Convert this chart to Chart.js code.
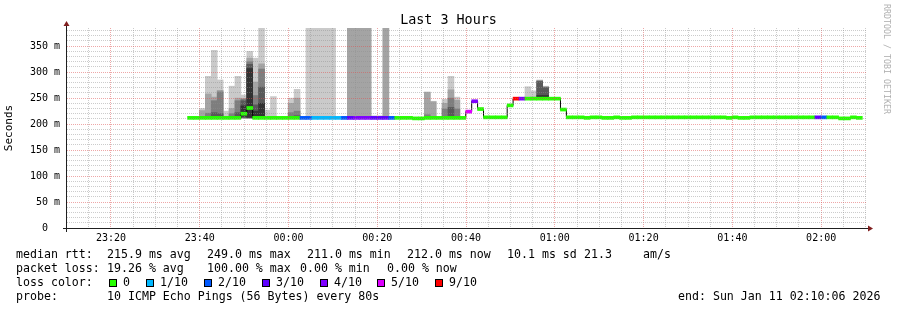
<!DOCTYPE html>
<html>
<head>
<meta charset="utf-8">
<title>Last 3 Hours</title>
<script src="https://cdn.jsdelivr.net/npm/chart.js@4.4.1/dist/chart.umd.min.js"></script>
<style>
  html, body { margin: 0; padding: 0; background: #fff; }
  #wrap { position: relative; width: 897px; height: 310px; overflow: hidden;
          font-family: "DejaVu Sans Mono", monospace; color: #000; }
  #chart { position: absolute; left: 0; top: 0; }
  #title { position: absolute; left: 0; top: 11.5px; width: 897px; text-align: center;
           font-size: 13.4px; line-height: 16px; }
  #mark { position: absolute; left: 892px; top: 4px; font-size: 8.3px; line-height: 10px;
          color: #b0b0b0; white-space: pre; transform: rotate(90deg); transform-origin: 0 0; }
  .t { position: absolute; white-space: pre; font-size: 11.6px; line-height: 14px; }
  .sw { position: absolute; top: 279px; width: 6px; height: 6px; border: 1px solid #000; }
</style>
</head>
<body>
<div id="wrap">
  <canvas id="chart" width="897" height="310"></canvas>
  <div id="title">Last 3 Hours</div>
  <div id="mark">RRDTOOL / TOBI OETIKER</div>

  <div class="t" style="top:246.5px;left:16px">median rtt:</div>
  <div class="t" style="top:246.5px;left:107px">215.9 ms avg</div>
  <div class="t" style="top:246.5px;left:207px">249.0 ms max</div>
  <div class="t" style="top:246.5px;left:307px">211.0 ms min</div>
  <div class="t" style="top:246.5px;left:407px">212.0 ms now</div>
  <div class="t" style="top:246.5px;left:507px">10.1 ms sd</div>
  <div class="t" style="top:246.5px;left:584px">21.3</div>
  <div class="t" style="top:246.5px;left:643px">am/s</div>

  <div class="t" style="top:260.5px;left:16px">packet loss:</div>
  <div class="t" style="top:260.5px;left:107px">19.26 % avg</div>
  <div class="t" style="top:260.5px;left:207px">100.00 % max</div>
  <div class="t" style="top:260.5px;left:300px">0.00 % min</div>
  <div class="t" style="top:260.5px;left:387px">0.00 % now</div>

  <div class="t" style="top:274.5px;left:16px">loss color:</div>
  <div id="lossKey"></div>

  <div class="t" style="top:288.5px;left:16px">probe:</div>
  <div class="t" style="top:288.5px;left:107px">10 ICMP Echo Pings (56 Bytes) every 80s</div>
  <div class="t" style="top:288.5px;left:678px">end: Sun Jan 11 02:10:06 2026</div>
</div>

<script>
// graph window: 3 hours ending Sun Jan 11 02:10:06 2026
const graphStartClock = 23 * 3600 + 10 * 60 + 6;   // 23:10:06
const graphSpan = 3 * 3600;
const stepSec = 80;
const firstStep = 1630;   // seconds after graph start where the first sample begins

// median rtt per 80 s step (ms)
const medianMs = [
  212, 212, 212, 212, 212, 212, 212, 212, 212, 220,
  231, 212, 212, 212, 212, 212, 212, 212, 212, 212,
  212, 212, 212, 212, 212, 212, 212, 212, 212, 212,
  212, 212, 212, 212, 212, 212, 212, 212, 211, 211,
  212, 212, 212, 212, 212, 212, 212, 224, 244, 229,
  213, 213, 213, 213, 236, 249, 249, 249, 249, 249,
  249, 249, 249, 228, 213, 213, 213, 212, 213, 213,
  212, 212, 213, 212, 212, 213, 213, 213, 213, 213,
  213, 213, 213, 213, 213, 213, 213, 213, 213, 213,
  213, 212, 213, 212, 212, 213, 213, 213, 213, 213,
  213, 213, 213, 213, 213, 213, 213, 213, 213, 213,
  211, 211, 213, 212
];

// lost pings out of 10 per step
const lostPings = [
  0, 0, 0, 0, 0, 0, 0, 0, 0, 0,
  0, 0, 0, 0, 0, 0, 0, 0, 0, 2,
  2, 1, 1, 1, 1, 1, 2, 3, 4, 4,
  4, 3, 3, 3, 2, 0, 0, 0, 0, 0,
  0, 0, 0, 0, 0, 0, 0, 5, 4, 0,
  0, 0, 0, 0, 0, 9, 4, 0, 0, 0,
  0, 0, 0, 0, 0, 0, 0, 0, 0, 0,
  0, 0, 0, 0, 0, 0, 0, 0, 0, 0,
  0, 0, 0, 0, 0, 0, 0, 0, 0, 0,
  0, 0, 0, 0, 0, 0, 0, 0, 0, 0,
  0, 0, 0, 0, 0, 0, 3, 2, 0, 0,
  0, 0, 0, 0
];

// steps that show smoke, with their sorted pings (low half p1..p5, high half p6..p10)
const smokeSteps = [2, 3, 4, 5, 6, 7, 8, 9, 10, 11, 12, 13, 14, 17, 18,
  20, 21, 22, 23, 24, 27, 28, 29, 30, 31, 32, 33, 40, 41, 43, 44, 45, 57, 58, 59, 60];
const smokeLow = [
  [211, 212, 212, 212, 212], [211, 212, 212, 212, 212], [211, 212, 212, 212, 213],
  [211, 212, 212, 212, 213], [211, 212, 212, 212, 212], [211, 212, 212, 212, 212],
  [211, 212, 212, 212, 213], [211, 212, 212, 213, 215], [211, 212, 212, 212, 213],
  [211, 212, 212, 212, 213], [211, 212, 212, 213, 214], [211, 212, 212, 212, 212],
  [211, 212, 212, 212, 212], [211, 212, 212, 212, 212], [211, 212, 212, 212, 213],
  [211, 212, 212, 212, 212], [211, 212, 212, 212, 212], [211, 212, 212, 212, 212],
  [211, 212, 212, 212, 212], [211, 212, 212, 212, 212], [211, 212, 212, 212, 212],
  [211, 212, 212, 212, 212], [211, 212, 212, 212, 212], [211, 212, 212, 212, 212],
  [211, 212, 212, 212, 212], [211, 212, 212, 212, 212], [211, 212, 212, 212, 212],
  [210, 211, 211, 211, 211], [211, 212, 212, 212, 212], [211, 212, 212, 212, 212],
  [211, 212, 212, 212, 213], [211, 212, 212, 212, 212], [248, 249, 249, 249, 249],
  [248, 249, 249, 249, 249], [248, 249, 249, 249, 250], [248, 249, 249, 249, 250]
];
const smokeHigh = [
  [212, 213, 214, 226, 230], [213, 214, 221, 258, 292], [214, 222, 245, 252, 342],
  [214, 220, 262, 265, 285], [212, 213, 213, 215, 225], [213, 215, 220, 230, 273],
  [214, 222, 245, 250, 292], [235, 245, 248, 249, 256], [307, 315, 320, 327, 340],
  [225, 237, 255, 281, 327], [240, 271, 306, 316, 385], [212, 213, 213, 214, 227],
  [212, 213, 213, 215, 253], [213, 214, 222, 240, 250], [214, 216, 225, 250, 267],
  [212, 213, 213, 214, 1500], [212, 213, 213, 214, 1500], [212, 213, 213, 214, 1500],
  [212, 213, 213, 214, 1500], [212, 213, 213, 214, 1500], [212, 213, 213, 1500, 1500],
  [212, 213, 213, 1500, 1500], [212, 213, 213, 1500, 1500], [212, 213, 213, 1500, 1500],
  [212, 213, 213, 214, 216], [212, 213, 213, 214, 216], [212, 213, 213, 1500, 1500],
  [212, 213, 218, 261, 262], [212, 213, 214, 243, 244], [213, 214, 229, 240, 248],
  [215, 232, 250, 266, 292], [213, 215, 229, 246, 252], [249, 250, 250, 251, 272],
  [249, 250, 250, 252, 264], [255, 282, 283, 284, 285], [255, 270, 271, 272, 273]
];

const lossLevels = [0, 1, 2, 3, 4, 5, 9];
const lossLabels = ['0', '1/10', '2/10', '3/10', '4/10', '5/10', '9/10'];
const lossColors = ['#26ff00', '#00b8ff', '#0059ff', '#5e00ff', '#7e00ff', '#dd00ff', '#ff0000'];
const smokeColors = ['#cacaca', '#a4a4a4', '#7e7e7e', '#585858', '#323232'];

const yMax = 385;
const band = 2.9;   // half height of the median band, ms
const monoFont = 'DejaVu Sans Mono';
const gridMinor = 'rgba(143,143,143,0.45)';
const gridMajor = 'rgba(222,79,79,0.5)';

// legend swatches
const swatchLeft = [109, 146, 204, 262, 320, 377, 435];
const keyBox = document.getElementById('lossKey');
lossLabels.forEach((lbl, i) => {
  const sw = document.createElement('div');
  sw.className = 'sw';
  sw.style.left = swatchLeft[i] + 'px';
  sw.style.background = lossColors[i];
  keyBox.appendChild(sw);
  const t = document.createElement('div');
  t.className = 't';
  t.style.top = '274.5px';
  t.style.left = (swatchLeft[i] + 14) + 'px';
  t.textContent = lbl;
  keyBox.appendChild(t);
});

const mid = k => firstStep + k * stepSec + stepSec / 2;
function lossColor(n) {
  let c = lossColors[0];
  lossLevels.forEach((lv, i) => { if (n >= lv) c = lossColors[i]; });
  return c;
}
const pad2 = n => String(n).padStart(2, '0');
const clockOf = v => (graphStartClock + v) % 86400;

const barCommon = { type: 'bar', grouped: false, barPercentage: 1, categoryPercentage: 1, borderWidth: 0 };

const datasets = [
  Object.assign({}, barCommon, {
    label: 'median',
    data: medianMs.map((m, k) => ({ x: mid(k), y: [m - band, m + band] })),
    backgroundColor: lostPings.map(lossColor),
    order: 0
  }),
  {
    type: 'line',
    label: 'median line',
    data: medianMs.map((m, k) => ({ x: mid(k), y: m })),
    stepped: 'middle',
    borderColor: '#000',
    borderWidth: 1,
    pointRadius: 0,
    order: 1
  }
];
// smoke layers: band i spans ping i+1 .. ping 10-i
for (let i = 0; i < 5; i++) {
  datasets.push(Object.assign({}, barCommon, {
    label: 'smoke ' + (i + 1),
    data: smokeSteps.map((k, j) => ({ x: mid(k), y: [smokeLow[j][i], smokeHigh[j][4 - i]] })),
    backgroundColor: smokeColors[i],
    order: 6 - i
  }));
}

const axisArrows = {
  id: 'axisArrows',
  afterDraw(chart) {
    const { ctx, chartArea: a } = chart;
    ctx.save();
    ctx.lineWidth = 1;
    ctx.strokeStyle = '#1f1f1f';
    ctx.beginPath();
    ctx.moveTo(a.left - 4, a.bottom + 0.5);
    ctx.lineTo(a.right + 3, a.bottom + 0.5);
    ctx.moveTo(a.left - 0.5, a.bottom + 4);
    ctx.lineTo(a.left - 0.5, a.top - 3);
    ctx.stroke();
    ctx.fillStyle = '#801f1f';
    ctx.beginPath();
    ctx.moveTo(a.right + 2, a.bottom - 2.5);
    ctx.lineTo(a.right + 7, a.bottom + 0.5);
    ctx.lineTo(a.right + 2, a.bottom + 3.5);
    ctx.closePath();
    ctx.fill();
    ctx.beginPath();
    ctx.moveTo(a.left - 3.5, a.top - 2);
    ctx.lineTo(a.left - 0.5, a.top - 7);
    ctx.lineTo(a.left + 2.5, a.top - 2);
    ctx.closePath();
    ctx.fill();
    ctx.restore();
  }
};

new Chart(document.getElementById('chart'), {
  type: 'bar',
  data: { datasets },
  plugins: [axisArrows],
  options: {
    responsive: false,
    animation: false,
    devicePixelRatio: 1,
    layout: { padding: { top: 28, right: 31, left: 0, bottom: 0 } },
    plugins: {
      legend: { display: false },
      tooltip: { enabled: false },
      title: { display: false }
    },
    scales: {
      x: {
        type: 'linear',
        min: 0,
        max: graphSpan,
        bounds: 'data',
        offset: false,
        grid: {
          offset: false,
          drawTicks: false,
          z: 1,
          color: ctx => (clockOf(ctx.tick.value) % 1200 === 0 ? gridMajor : gridMinor)
        },
        border: { display: false, dash: [1, 1] },
        ticks: {
          autoSkip: false,
          maxRotation: 0,
          padding: 4,
          color: '#000',
          font: { family: monoFont, size: 10 },
          callback: v => {
            const c = clockOf(v);
            if (c % 1200) return '';
            return pad2(Math.floor(c / 3600)) + ':' + pad2(Math.floor((c % 3600) / 60));
          }
        },
        afterBuildTicks: axis => {
          const ticks = [];
          for (let v = 300 - (graphStartClock % 300); v <= graphSpan; v += 300) ticks.push({ value: v });
          axis.ticks = ticks;
        },
        afterFit: scale => { scale.height = 82; }
      },
      y: {
        min: 0,
        max: yMax,
        bounds: 'data',
        grid: {
          drawTicks: false,
          z: 1,
          color: ctx => (ctx.tick.value % 50 === 0 ? gridMajor : gridMinor)
        },
        border: { display: false, dash: [1, 1] },
        ticks: {
          autoSkip: false,
          padding: 7,
          color: '#000',
          font: { family: monoFont, size: 10 },
          callback: v => (v % 50 ? '' : (v === 0 ? '0  ' : v + ' m'))
        },
        afterBuildTicks: axis => {
          const ticks = [];
          for (let v = 0; v <= 380; v += 10) ticks.push({ value: v });
          axis.ticks = ticks;
        },
        afterFit: scale => { scale.width = 67; },
        title: {
          display: true,
          text: 'Seconds',
          color: '#000',
          font: { family: monoFont, size: 11, lineHeight: 1.2 },
          padding: { top: 3, bottom: 0 }
        }
      }
    }
  }
});
</script>
</body>
</html>
